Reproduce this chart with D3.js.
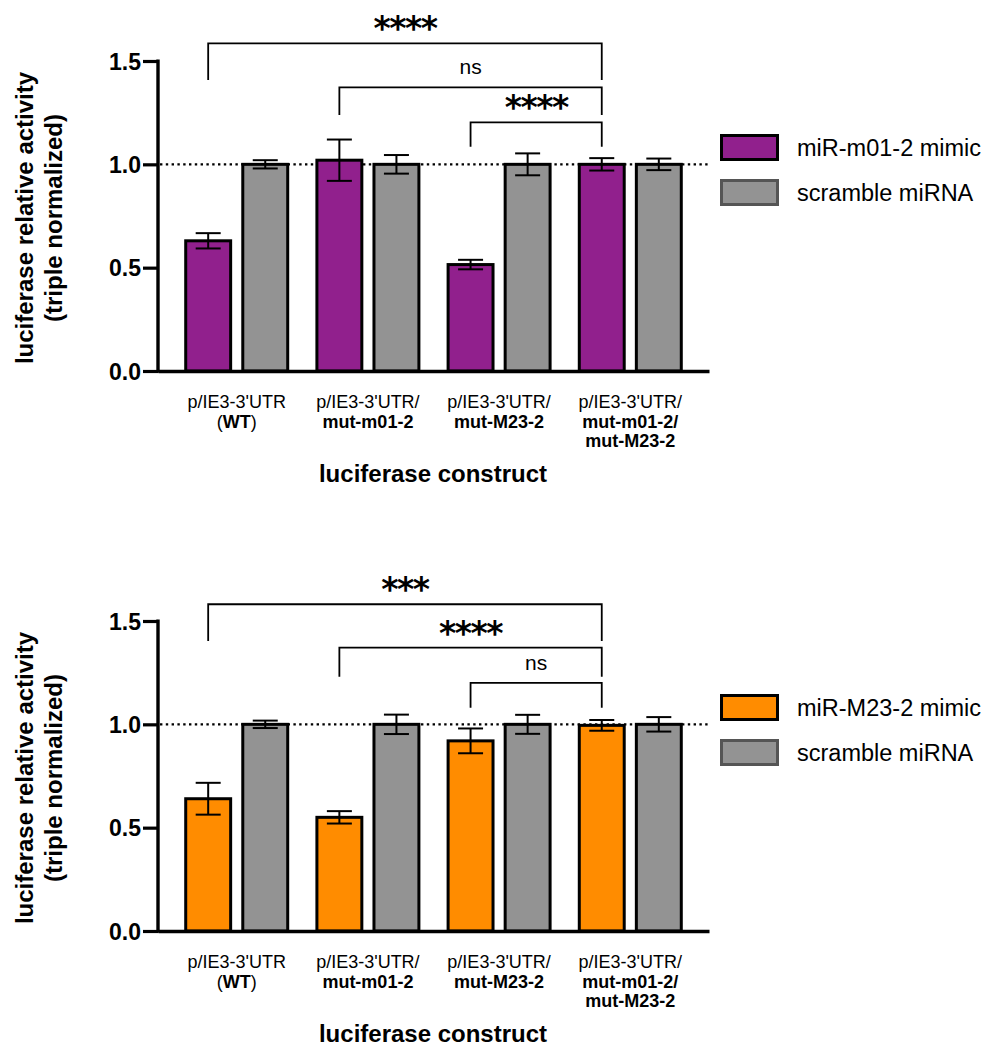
<!DOCTYPE html>
<html>
<head>
<meta charset="utf-8">
<script src="https://cdn.jsdelivr.net/npm/d3@7"></script>
<style>
  body { margin: 0; background: #fff; }
</style>
</head>
<body>
<svg id="chart"></svg>
<script>
// construct labels, "*...*" marks bold runs
const constructLines = [
  ["p/IE3-3'UTR", "(*WT*)"],
  ["p/IE3-3'UTR/", "*mut-m01-2*"],
  ["p/IE3-3'UTR/", "*mut-M23-2*"],
  ["p/IE3-3'UTR/", "*mut-m01-2/*", "*mut-M23-2*"],
];
const seriesKeys = ["mimic", "scramble"];
const yTicks = [0, 0.5, 1.0, 1.5];

// panel A: miR-m01-2 mimic
const m01Mimic       = [0.63, 1.02, 0.515, 1.0];
const m01MimicErr    = [0.037, 0.10, 0.023, 0.03];
const m01Scramble    = [1.0, 1.0, 1.0, 1.0];
const m01ScrambleErr = [0.02, 0.045, 0.053, 0.028];
const m01Brackets = [
  { from: 0, to: 3, label: "****", top: 1.585, leg: 1.408 },
  { from: 1, to: 3, label: "ns",   top: 1.372, leg: 1.239 },
  { from: 2, to: 3, label: "****", top: 1.203, leg: 1.085 },
];

// panel B: miR-M23-2 mimic
const m23Mimic       = [0.64, 0.55, 0.92, 0.995];
const m23MimicErr    = [0.077, 0.03, 0.06, 0.026];
const m23Scramble    = [1.0, 1.0, 1.0, 1.0];
const m23ScrambleErr = [0.018, 0.047, 0.046, 0.035];
const m23Brackets = [
  { from: 0, to: 3, label: "***",  top: 1.581, leg: 1.403 },
  { from: 1, to: 3, label: "****", top: 1.371, leg: 1.230 },
  { from: 2, to: 3, label: "ns",   top: 1.201, leg: 1.080 },
];

const W = 995, H = 1046;
const FONT = "'Liberation Sans', Arial, Helvetica, sans-serif";
const GRAY = "#939393";

const svg = d3.select("#chart").attr("width", W).attr("height", H)
  .style("font-family", FONT);

const x0 = d3.scaleBand()
  .domain(d3.range(constructLines.length))
  .range([158, 709])
  .paddingOuter(0.1);
const x1 = d3.scaleBand().domain(seriesKeys).range([0, 105]).paddingInner(0.16);
const y = d3.scaleLinear().domain([0, 1.5]).range([371, 61]);

const barLeft = (i, s) => x0(i) + x0.bandwidth() / 2 - 52.5 + x1(s);
const barMid = (i, s) => barLeft(i, s) + x1.bandwidth() / 2;

function drawPanel(offsetY, cfg) {
  const g = svg.append("g").attr("transform", `translate(0,${offsetY})`);
  const rows = d3.range(constructLines.length).flatMap(i => [
    { i, s: "mimic", v: cfg.mimic[i], e: cfg.mimicErr[i], fill: cfg.color },
    { i, s: "scramble", v: cfg.scramble[i], e: cfg.scrambleErr[i], fill: GRAY },
  ]);

  // dotted reference at 1.0 (behind bars)
  g.append("line")
    .attr("x1", 160).attr("x2", 709)
    .attr("y1", y(1)).attr("y2", y(1))
    .attr("stroke", "#000").attr("stroke-width", 2.4)
    .attr("stroke-dasharray", "2.4 3.4");

  // bars
  g.selectAll("rect.bar").data(rows).join("rect")
    .attr("class", "bar")
    .attr("x", d => barLeft(d.i, d.s) + 1.5)
    .attr("width", x1.bandwidth() - 3)
    .attr("y", d => y(d.v))
    .attr("height", d => y(0) - y(d.v))
    .attr("fill", d => d.fill)
    .attr("stroke", "#000").attr("stroke-width", 3);

  // error bars
  const eb = g.selectAll("g.err").data(rows).join("g").attr("class", "err")
    .attr("stroke", "#000").attr("stroke-width", 2);
  eb.append("line")
    .attr("x1", d => barMid(d.i, d.s)).attr("x2", d => barMid(d.i, d.s))
    .attr("y1", d => y(d.v + d.e)).attr("y2", d => y(d.v - d.e));
  [1, -1].forEach(sign => {
    eb.append("line")
      .attr("x1", d => barMid(d.i, d.s) - 12.5).attr("x2", d => barMid(d.i, d.s) + 12.5)
      .attr("y1", d => y(d.v + sign * d.e)).attr("y2", d => y(d.v + sign * d.e));
  });

  // y axis
  const yAxis = g.append("g").attr("transform", "translate(158,0)")
    .call(d3.axisLeft(y).tickValues(yTicks).tickFormat(d3.format(".1f"))
      .tickSize(15).tickSizeOuter(0).tickPadding(2));
  yAxis.select(".domain").attr("stroke-width", 3.4).attr("d", `M0,${y(0) + 1.7}V${y(1.5) - 1.5}`);
  yAxis.selectAll(".tick line").attr("stroke-width", 3.2);
  yAxis.selectAll(".tick text")
    .attr("font-family", FONT).attr("font-size", 23).attr("font-weight", "bold")
    .attr("fill", "#000").attr("dy", "0.36em");

  // x axis
  const xAxis = g.append("g").attr("transform", `translate(0,${y(0)})`)
    .call(d3.axisBottom(x0).tickSize(0).tickSizeOuter(0).tickFormat(""));
  xAxis.select(".domain").attr("stroke-width", 3.4);

  // construct labels
  const lbl = g.selectAll("text.cons").data(constructLines).join("text")
    .attr("class", "cons")
    .attr("text-anchor", "middle")
    .attr("font-size", 18).attr("fill", "#000");
  lbl.each(function (lines, i) {
    const t = d3.select(this);
    const xc = x0(i) + x0.bandwidth() / 2;
    lines.forEach((line, k) => {
      const parts = line.split("*");
      parts.forEach((p, j) => {
        if (!p) return;
        const ts = t.append("tspan").text(p).attr("font-weight", j % 2 ? "bold" : "normal");
        if (j === 0 || (j === 1 && parts[0] === "")) ts.attr("x", xc).attr("y", 408 + k * 19.5);
      });
    });
  });

  g.append("text")
    .attr("x", 433).attr("y", 482)
    .attr("text-anchor", "middle")
    .attr("font-size", 24).attr("font-weight", "bold")
    .text("luciferase construct");

  // y title
  const yt = g.append("text")
    .attr("transform", "translate(0,218) rotate(-90)")
    .attr("text-anchor", "middle")
    .attr("font-size", 24).attr("font-weight", "bold");
  yt.append("tspan").attr("x", 0).attr("y", 33).text("luciferase relative activity");
  yt.append("tspan").attr("x", 0).attr("y", 62).text("(triple normalized)");

  // significance brackets
  const br = g.selectAll("g.br").data(cfg.brackets).join("g").attr("class", "br");
  br.append("path")
    .attr("fill", "none").attr("stroke", "#000").attr("stroke-width", 1.8)
    .attr("d", d => {
      const xa = barMid(d.from, "mimic"), xb = barMid(d.to, "mimic");
      return `M${xa},${y(d.leg)}V${y(d.top)}H${xb}V${y(d.leg)}`;
    });
  br.append("text")
    .attr("x", d => (barMid(d.from, "mimic") + barMid(d.to, "mimic")) / 2)
    .attr("y", d => d.label === "ns" ? y(d.top) - 13 : y(d.top) - 3)
    .attr("text-anchor", "middle")
    .attr("font-family", d => d.label === "ns" ? FONT : "'DejaVu Sans', sans-serif")
    .attr("font-size", d => d.label === "ns" ? 21 : 33)
    .attr("font-weight", d => d.label === "ns" ? "normal" : "bold")
    .attr("letter-spacing", d => d.label === "ns" ? 0 : -1.5)
    .text(d => d.label);

  // legend
  const legendItems = [
    { label: cfg.legendLabel, fill: cfg.color, stroke: "#000" },
    { label: "scramble miRNA", fill: GRAY, stroke: "#555" },
  ];
  const lg = g.selectAll("g.leg").data(legendItems).join("g").attr("class", "leg")
    .attr("transform", (d, k) => `translate(720,${134 + k * 45})`);
  lg.append("rect")
    .attr("x", 1.5).attr("y", 1.5).attr("width", 56).attr("height", 24)
    .attr("fill", d => d.fill).attr("stroke", d => d.stroke).attr("stroke-width", 3);
  lg.append("text")
    .attr("x", 77).attr("y", 22)
    .attr("font-size", 23.5).attr("fill", "#000")
    .text(d => d.label);
}

drawPanel(0, {
  mimic: m01Mimic, mimicErr: m01MimicErr,
  scramble: m01Scramble, scrambleErr: m01ScrambleErr,
  color: "#91208D", legendLabel: "miR-m01-2 mimic", brackets: m01Brackets,
});
drawPanel(560, {
  mimic: m23Mimic, mimicErr: m23MimicErr,
  scramble: m23Scramble, scrambleErr: m23ScrambleErr,
  color: "#FF8C00", legendLabel: "miR-M23-2 mimic", brackets: m23Brackets,
});
</script>
</body>
</html>
